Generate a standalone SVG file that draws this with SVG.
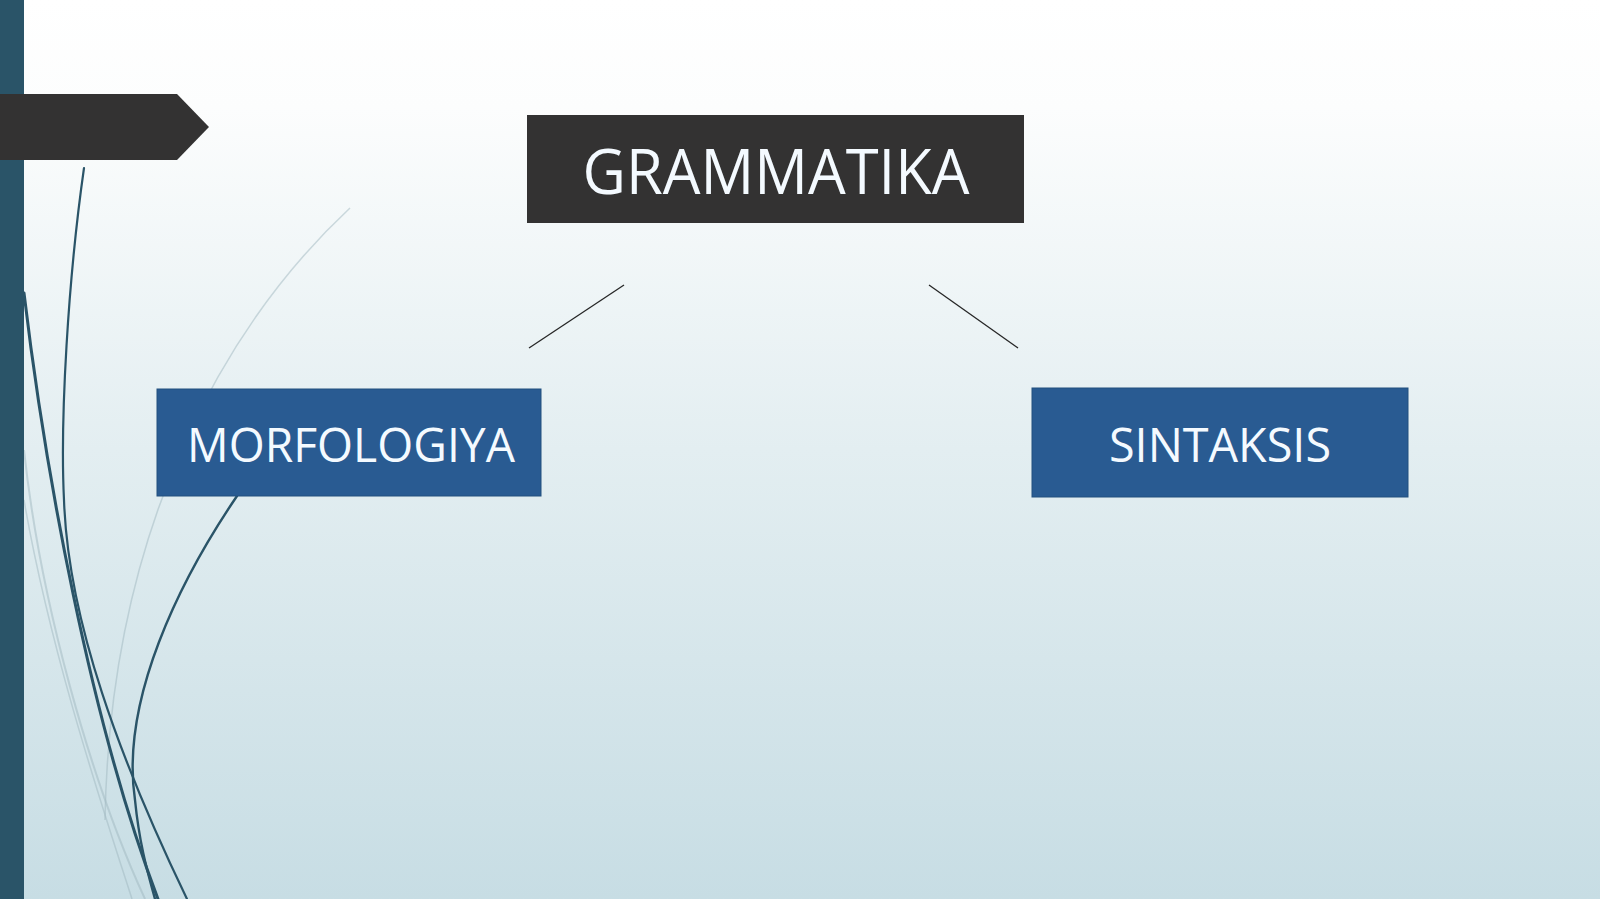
<svg xmlns="http://www.w3.org/2000/svg" width="1600" height="899" viewBox="0 0 1600 899">
  <defs>
    <linearGradient id="bg" x1="0" y1="0" x2="0" y2="1">
      <stop offset="0" stop-color="#ffffff"/>
      <stop offset="0.12" stop-color="#fcfdfd"/>
      <stop offset="0.5" stop-color="#e3eef1"/>
      <stop offset="1" stop-color="#c7dde4"/>
    </linearGradient>
    <style>
      .lbl { font-family: "Open Sans", "Liberation Sans", sans-serif; fill: #f4faff; text-anchor: middle; }
      .blue { fill: #295b92; stroke: #22507f; stroke-width: 1; }
      .dark { fill: #333232; }
      .wire { stroke: #2a5468; fill: none; stroke-linecap: round; }
      .pale { stroke: #9fb7c0; fill: none; opacity: 0.5; }
      .conn { stroke: #262626; stroke-width: 1.3; fill: none; }
    </style>
  </defs>

  <rect x="0" y="0" width="1600" height="899" fill="url(#bg)"/>

  <g id="decor">
    <path class="pale" stroke-width="1.5" d="M350 208 C 230 320, 110 520, 105 820"/>
    <path class="pale" stroke-width="2" d="M24 450 C 40 600, 90 780, 145 899"/>
    <path class="pale" stroke-width="1.5" d="M24 500 C 50 650, 100 800, 132 899"/>
    <path class="wire" stroke-width="2.2" d="M84 168 C 68 280, 60 420, 64 500 C 68 620, 120 760, 187 899"/>
    <path class="wire" stroke-width="3" d="M24 293 C 45 470, 90 720, 158 899"/>
    <path class="wire" stroke-width="2.4" d="M237 496 C 180 580, 120 700, 135 800 C 140 850, 150 880, 155 899"/>
    <rect x="0" y="0" width="24" height="899" fill="#2a5468"/>
    <polygon points="0,94 177,94 209,127 177,160 0,160" fill="#333232"/>
  </g>

  <g id="connectors">
    <line class="conn" x1="624" y1="285" x2="529" y2="348"/>
    <line class="conn" x1="929" y1="285" x2="1018" y2="348"/>
  </g>

  <g id="node-grammatika">
    <rect class="dark" x="527" y="115" width="497" height="108"/>
    <text class="lbl" x="776" y="194" font-size="62" textLength="387" lengthAdjust="spacingAndGlyphs">GRAMMATIKA</text>
  </g>

  <g id="node-morfologiya">
    <rect class="blue" x="157" y="389" width="384" height="107"/>
    <text class="lbl" x="351" y="462" font-size="48" textLength="328" lengthAdjust="spacingAndGlyphs">MORFOLOGIYA</text>
  </g>

  <g id="node-sintaksis">
    <rect class="blue" x="1032" y="388" width="376" height="109"/>
    <text class="lbl" x="1220" y="462" font-size="48" textLength="222" lengthAdjust="spacingAndGlyphs">SINTAKSIS</text>
  </g>
</svg>
